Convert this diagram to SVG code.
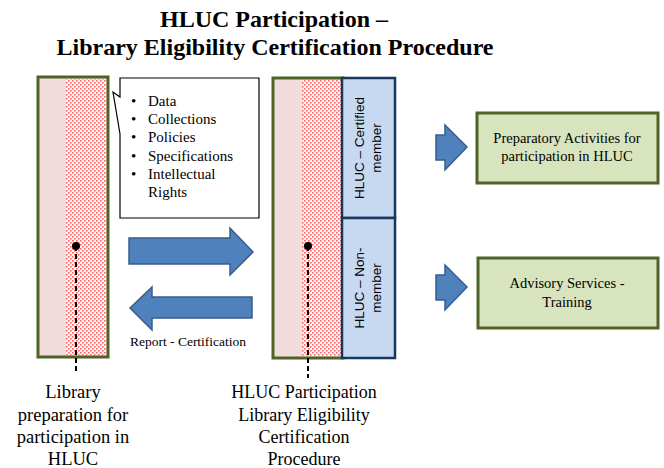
<svg xmlns="http://www.w3.org/2000/svg" width="664" height="468" viewBox="0 0 664 468">
<defs>
<pattern id="dots" width="4" height="4" patternUnits="userSpaceOnUse">
<rect width="4" height="4" fill="#fff4f4"/>
<rect x="0" y="0" width="1.6" height="1.6" fill="#f46a6a"/>
<rect x="2" y="2" width="1.6" height="1.6" fill="#f46a6a"/>
</pattern>
</defs>
<style>
.t{font-family:'Liberation Serif','Times New Roman',serif;fill:#000}
.s{font-family:'Liberation Sans',Arial,sans-serif;fill:#000}
.col{stroke:#4f6228;stroke-width:3;fill:#f2dcdb}
.blue{fill:#c6d9f1;stroke:#17375e;stroke-width:2.5}
.green{fill:#d7e4bd;stroke:#4f6228;stroke-width:3}
.arr{fill:#4f81bd;stroke:#385d8a;stroke-width:1.5}
.dash{stroke:#000;stroke-width:2;stroke-dasharray:5 3;fill:none}
</style>
<rect width="664" height="468" fill="#fff"/>
<g id="title">
<text class="t" x="274" y="27" font-size="24" font-weight="bold" text-anchor="middle">HLUC Participation –</text>
<text class="t" x="275" y="55" font-size="24" font-weight="bold" text-anchor="middle">Library Eligibility Certification Procedure</text>
</g>
<g id="left-column">
<rect class="col" x="38" y="77" width="70" height="280"/>
<rect x="66" y="79" width="40" height="276" fill="url(#dots)"/>
<line class="dash" x1="76" y1="246" x2="76" y2="373"/>
<circle cx="76" cy="246" r="4" fill="#000"/>
<text class="t" font-size="18.5" text-anchor="middle"><tspan x="73" y="398">Library</tspan><tspan x="73" y="420.5">preparation for</tspan><tspan x="73" y="443">participation in</tspan><tspan x="73" y="465">HLUC</tspan></text>
</g>
<g id="callout">
<path d="M120,78 H259 V218 H120 V134 L113,92 L120,97 Z" fill="#fff" stroke="#000" stroke-width="1.2"/>
<g class="t" font-size="15">
<text class="t" x="131" y="106">•</text><text class="t" x="148" y="106">Data</text>
<text class="t" x="131" y="124">•</text><text class="t" x="148" y="124">Collections</text>
<text class="t" x="131" y="142">•</text><text class="t" x="148" y="142">Policies</text>
<text class="t" x="131" y="161">•</text><text class="t" x="148" y="161">Specifications</text>
<text class="t" x="131" y="179">•</text><text class="t" x="148" y="179">Intellectual</text>
<text class="t" x="148" y="197">Rights</text>
</g>
</g>
<g id="middle-column">
<rect class="col" x="273" y="78" width="70" height="280"/>
<rect x="302" y="80" width="39" height="276" fill="url(#dots)"/>
<line class="dash" x1="308" y1="246" x2="308" y2="378"/>
<circle cx="308" cy="246" r="4" fill="#000"/>
<text class="t" font-size="18" text-anchor="middle"><tspan x="304" y="398">HLUC Participation</tspan><tspan x="304" y="420.5">Library Eligibility</tspan><tspan x="304" y="443">Certification</tspan><tspan x="304" y="465">Procedure</tspan></text>
</g>
<g id="certified">
<rect class="blue" x="342" y="78" width="53" height="140"/>
<text class="s" font-size="13.5" text-anchor="middle" transform="translate(368,148) rotate(-90)"><tspan x="0" y="-4">HLUC – Certified</tspan><tspan x="0" y="13">member</tspan></text>
</g>
<g id="non-member">
<rect class="blue" x="342" y="218" width="53" height="140"/>
<text class="s" font-size="13.5" text-anchor="middle" transform="translate(368,288) rotate(-90)"><tspan x="0" y="-4">HLUC – Non-</tspan><tspan x="0" y="13">member</tspan></text>
</g>
<g id="preparatory">
<rect class="green" x="477" y="113" width="181" height="70"/>
<text class="t" font-size="14.5" text-anchor="middle"><tspan x="567" y="143">Preparatory Activities for</tspan><tspan x="567" y="161">participation in HLUC</tspan></text>
</g>
<g id="advisory">
<rect class="green" x="478" y="258" width="180" height="70"/>
<text class="t" font-size="14.5" text-anchor="middle"><tspan x="567" y="288">Advisory Services -</tspan><tspan x="567" y="307">Training</tspan></text>
</g>
<g id="connectors">
<path class="arr" d="M129,238 L230,238 L230,228 L253,252 L230,275 L230,264 L129,264 Z"/>
<path class="arr" d="M252,297 L152,297 L152,287 L130,308 L152,330 L152,318 L252,318 Z"/>
<text class="t" x="188" y="346" font-size="13.5" text-anchor="middle">Report - Certification</text>
<path class="arr" d="M436,135 L445,135 L445,125 L467,147 L445,170 L445,160 L436,160 Z"/>
<path class="arr" d="M436,275 L445,275 L445,265 L467,287 L445,310 L445,300 L436,300 Z"/>
</g>
</svg>
